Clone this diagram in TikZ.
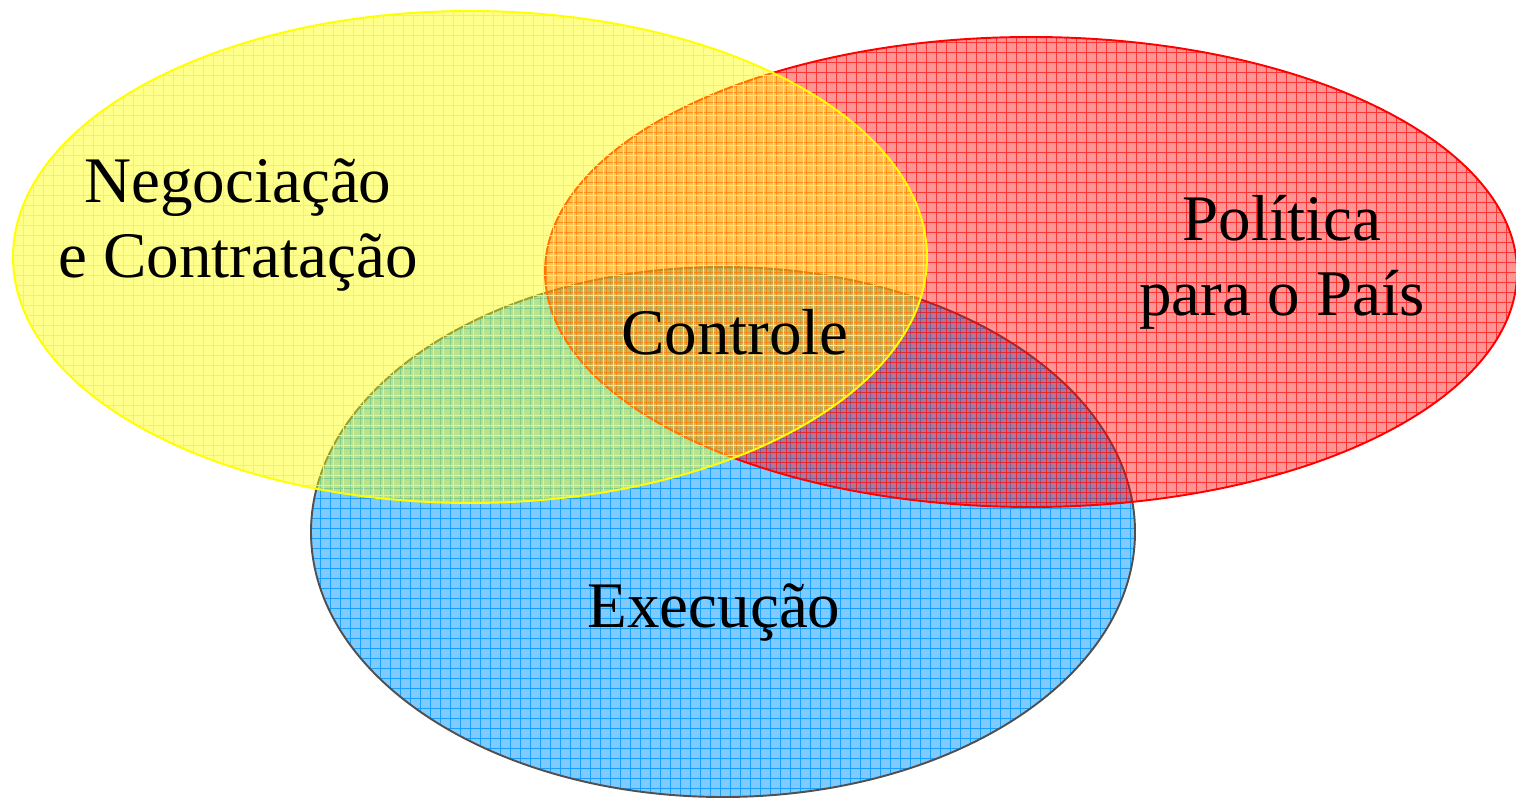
\documentclass[tikz,border=0pt]{standalone}
\usepackage{fontspec}
\setmainfont{Liberation Serif}
\usepackage{tikz}

\definecolor{setyellow}{RGB}{255,255,0}
\definecolor{setred}{RGB}{255,0,0}
\definecolor{setblue}{RGB}{0,150,255}
\definecolor{setedge}{RGB}{80,80,80}

\tikzset{
    area/.style={fill=#1},
    gridlines/.style={draw=#1, line width=0.45pt},
    label/.style={font=\fontsize{37}{42.7}\selectfont, align=center, text=black}
}

\begin{document}
\begin{tikzpicture}
    \useasboundingbox (0, 0) rectangle (30.32, 15.96);
    \coordinate (blue) at (14.46, 5.32);
    \coordinate (red) at (20.62, 10.52);
    \coordinate (yellow) at (9.40, 10.82);
    \foreach \set/\col/\edge/\rx/\ry/\op/\lo/\sh in {blue/setblue/setedge/8.24/5.30/0.5/0.8/0, red/setred/setred/9.72/4.70/0.42/0.65/0.12, yellow/setyellow/setyellow/9.14/4.92/0.45/1/0.06} {
        \begin{scope}
            \clip (\set) ellipse [x radius=\rx, y radius=\ry];
            \path[area=\col, fill opacity=\op] (\set) ellipse [x radius=\rx, y radius=\ry];
            \draw[gridlines=\col, draw opacity=\lo, step=0.2, shift={(\sh, \sh)}] (-0.4, -0.4) grid (30.4, 16);
        \end{scope}
        \draw[\edge, line width=1.1pt] (\set) ellipse [x radius=\rx, y radius=\ry];
    }
    \node[label] (nego) at (4.76, 11.46) {Negociação\\e Contratação};
    \node[label] (pol) at (25.64, 10.72) {Política\\para o País};
    \node[label, anchor=base] (ctrl) at (14.70, 8.86) {Controle};
    \node[label, anchor=base] (exec) at (14.28, 3.42) {Execução};
\end{tikzpicture}
\end{document}
